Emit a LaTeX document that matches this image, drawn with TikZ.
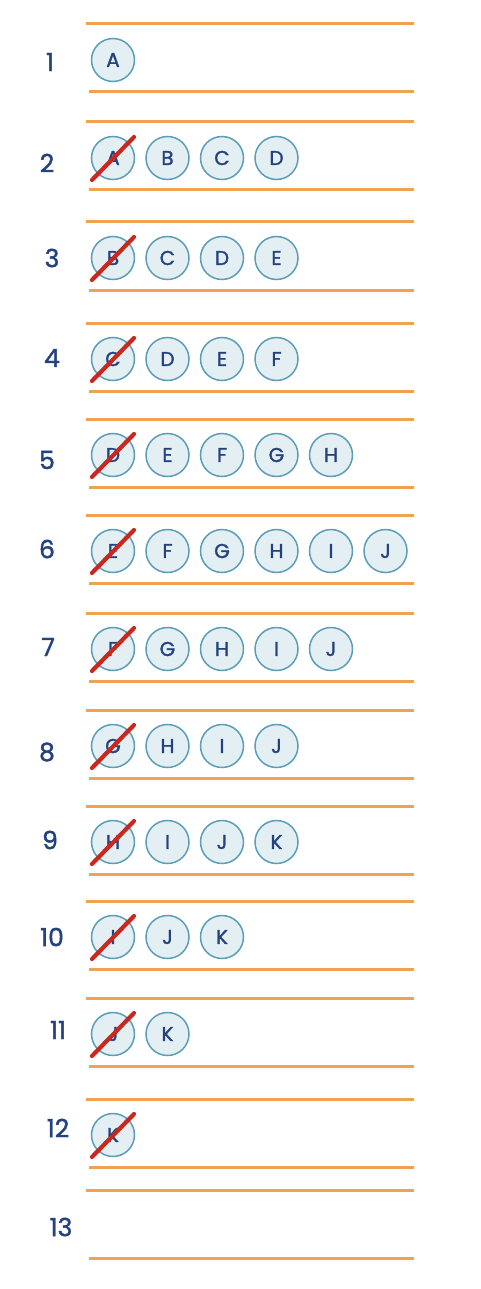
\documentclass[tikz,border=0pt]{standalone}
\usepackage{fontspec}
\usepackage{xcolor}
\definecolor{lineorange}{RGB}{240,162,80}
\definecolor{inkblue}{RGB}{36,66,128}
\definecolor{ballrim}{RGB}{92,157,184}
\definecolor{ballfill}{RGB}{228,239,243}
\definecolor{crossred}{RGB}{200,40,30}
\newfontfamily\handfont{Poppins}[FakeBold=1.5]
\usepackage{tikz}
\usetikzlibrary{arrows.meta,positioning,calc}

\begin{document}
\begin{tikzpicture}[
  x=1pt,y=-1pt,
  rule/.style={draw=lineorange,line width=3pt},
  num/.style={text=inkblue,font=\handfont\fontsize{25}{25}\selectfont,inner sep=0pt},
  ball/.style={circle,draw=ballrim,fill=ballfill,line width=1.5pt,minimum size=43pt,inner sep=0pt,text=inkblue,font=\handfont\fontsize{20}{20}\selectfont},
  cross/.style={draw=crossred,line width=4.2pt,line cap=round}
]
  \useasboundingbox (0,0) rectangle (480,1289);

  % ruled bands and row numbers
  \foreach \r/\t/\nx/\ny in {1/24/50/62,2/122/47/163,3/222/52/258,4/323/52/358,
      5/419/47/460,6/515/47/549,7/613/48/647,8/710/47/752,9/806/50/840,
      10/901/52/937,11/998/58/1030,12/1099/58/1128,13/1190/61/1227} {
    \draw[rule] (86,\t) coordinate (top\r) -- (414,\t);
    \draw[rule] (89,\t+68) coordinate (bot\r) -- (414,\t+68);
    \node[num] (n\r) at (\nx,\ny) {\r};
  }

  % letters in each row
  \foreach \r/\t/\letters in {1/24/{A},2/122/{A,B,C,D},3/222/{B,C,D,E},
      4/323/{C,D,E,F},5/419/{D,E,F,G,H},6/515/{E,F,G,H,I,J},7/613/{F,G,H,I,J},
      8/710/{G,H,I,J},9/806/{H,I,J,K},10/901/{I,J,K},11/998/{J,K},12/1099/{K}} {
    \foreach \l [count=\i from 0] in \letters
      \node[ball] (b\r-\i) at (113+54.5*\i,\t+36) {\l};
  }

  % struck-out first letters
  \foreach \r in {2,...,12}
    \draw[cross] ([shift={(-21,22)}]b\r-0.center) -- ([shift={(21,-21)}]b\r-0.center);
\end{tikzpicture}
\end{document}
